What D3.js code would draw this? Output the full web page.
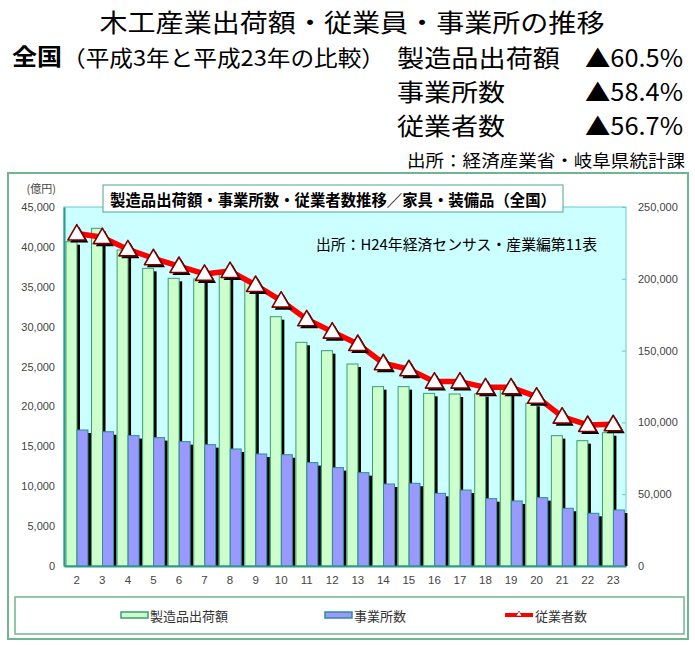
<!DOCTYPE html>
<html><head><meta charset="utf-8">
<script src="https://cdn.jsdelivr.net/npm/d3@7"></script>
<style>
html,body{margin:0;padding:0;background:#fff;}
svg{display:block;font-family:"Noto Sans CJK JP","Noto Sans",sans-serif;}
</style></head>
<body><svg id="c" width="695" height="645"></svg>
<script>
const categories = ["2","3","4","5","6","7","8","9","10","11","12","13","14","15","16","17","18","19","20","21","22","23"];
const shipments = [40650,42330,39610,37310,36060,35980,36560,35760,31250,28040,26990,25320,22480,22480,21640,21560,21600,22100,20390,16340,15710,16710];
const establishments = [94700,93500,90800,89400,86600,84500,81500,78000,77500,72000,68500,65000,57100,57600,50600,52900,46900,45300,47600,40200,36700,39000];
const employees = [231500,229000,220500,214300,208900,203400,205400,195700,184800,171800,163200,154600,141200,137000,128400,128400,124400,124400,117900,104000,98200,98700];
const leftTicks = [0,5000,10000,15000,20000,25000,30000,35000,40000,45000];
const rightTicks = [0,50000,100000,150000,200000,250000];
const seriesNames = ["製造品出荷額","事業所数","従業者数"];
const changes = ["▲60.5%","▲58.4%","▲56.7%"];

const svg = d3.select("#c");
const P = {l:64, r:626, t:207, b:566};

// header texts
svg.append("text").attr("x",352).attr("y",21).attr("text-anchor","middle").attr("dominant-baseline","central")
  .attr("font-size",25).attr("textLength",505).attr("lengthAdjust","spacingAndGlyphs").attr("fill","#000")
  .text("木工産業出荷額・従業員・事業所の推移");
svg.append("text").attr("x",12).attr("y",55).attr("dominant-baseline","central").attr("font-size",23)
  .attr("font-weight","bold").attr("textLength",50).attr("lengthAdjust","spacingAndGlyphs").text("全国");
svg.append("text").attr("x",62).attr("y",56).attr("dominant-baseline","central").attr("font-size",22)
  .attr("textLength",323).attr("lengthAdjust","spacingAndGlyphs").text("（平成3年と平成23年の比較）");
const rowY = [56, 90, 124];
const nameW = [163,108,108];
seriesNames.forEach((n,i)=>{
  svg.append("text").attr("x",397).attr("y",rowY[i]).attr("dominant-baseline","central").attr("font-size",24)
    .attr("textLength",nameW[i]).attr("lengthAdjust","spacingAndGlyphs").text(n);
  svg.append("text").attr("x",585).attr("y",rowY[i]).attr("dominant-baseline","central").attr("font-size",24)
    .attr("textLength",98).attr("lengthAdjust","spacingAndGlyphs").text(changes[i]);
});
svg.append("text").attr("x",407).attr("y",159).attr("dominant-baseline","central").attr("font-size",17)
  .attr("textLength",278).attr("lengthAdjust","spacingAndGlyphs").text("出所：経済産業省・岐阜県統計課");

// outer chart border
svg.append("rect").attr("x",8).attr("y",173).attr("width",680).attr("height",466)
  .attr("fill","#fff").attr("stroke","#6fb58f").attr("stroke-width",2);

// scales
const x = d3.scaleBand().domain(categories).range([P.l,P.r]).padding(0);
const bw = x.bandwidth();
const sub = d3.scaleBand().domain(["g","b"]).range([2, bw-1.6]).padding(0);
const yL = d3.scaleLinear().domain([0,45000]).range([P.b,P.t]);
const yR = d3.scaleLinear().domain([0,250000]).range([P.b,P.t]);

// plot background
svg.append("rect").attr("x",P.l).attr("y",P.t).attr("width",P.r-P.l).attr("height",P.b-P.t)
  .attr("fill","#ccffff").attr("stroke","#66cccc").attr("stroke-width",1);

const sh = 3;
const gBars = svg.append("g");
categories.forEach((c,i)=>{
  const gx = x(c)+sub("g"), bx = x(c)+sub("b"), w = sub.bandwidth();
  gBars.append("rect").attr("x",gx+sh).attr("y",yL(shipments[i])+sh).attr("width",w).attr("height",P.b-yL(shipments[i])-sh).attr("fill","#000");
  gBars.append("rect").attr("x",gx).attr("y",yL(shipments[i])).attr("width",w).attr("height",P.b-yL(shipments[i]))
    .attr("fill","#ccffcc").attr("stroke","#3a9d73").attr("stroke-width",1);
  gBars.append("rect").attr("x",bx+sh).attr("y",yR(establishments[i])+sh).attr("width",w).attr("height",P.b-yR(establishments[i])-sh).attr("fill","#000");
  gBars.append("rect").attr("x",bx).attr("y",yR(establishments[i])).attr("width",w).attr("height",P.b-yR(establishments[i]))
    .attr("fill","#9999ff").attr("stroke","#2e8f95").attr("stroke-width",1);
});

// line
const line = d3.line().x((d,i)=>x(categories[i])+bw/2).y(d=>yR(d));
svg.append("path").datum(employees).attr("d",line).attr("fill","none").attr("stroke","#ff0000").attr("stroke-width",5.5).attr("stroke-linejoin","round");
const tri = (cx,cy)=>`M${cx},${cy-9}L${cx+9},${cy+6.5}L${cx-9},${cy+6.5}Z`;
const mk = svg.append("g");
employees.forEach((v,i)=>{
  const cx = x(categories[i])+bw/2, cy = yR(v);
  mk.append("path").attr("d",tri(cx+2.5,cy+2.5)).attr("fill","#000");
  mk.append("path").attr("d",tri(cx,cy)).attr("fill","#fff").attr("stroke","#7a0000").attr("stroke-width",1.6).attr("stroke-linejoin","round");
});

// axes
const axL = svg.append("g").attr("transform",`translate(${P.l},0)`)
  .call(d3.axisLeft(yL).tickValues(leftTicks).tickFormat(d3.format(",")).tickSize(0).tickPadding(9));
axL.select(".domain").attr("stroke","#2e9a8a").attr("stroke-width",2);
axL.selectAll("text").attr("font-family","Liberation Sans, Arial, sans-serif").attr("font-size",11).attr("fill","#444");
const axR = svg.append("g").attr("transform",`translate(${P.r},0)`)
  .call(d3.axisRight(yR).tickValues(rightTicks).tickFormat(d3.format(",")).tickSize(-4).tickPadding(12));
axR.select(".domain").remove();
axR.selectAll("line").attr("stroke","#66cccc");
axR.selectAll("text").attr("font-family","Liberation Sans, Arial, sans-serif").attr("font-size",11).attr("fill","#444");
const axB = svg.append("g").attr("transform",`translate(0,${P.b})`)
  .call(d3.axisBottom(x).tickSize(0).tickPadding(10));
axB.select(".domain").attr("stroke","#2e9a8a").attr("stroke-width",2);
axB.selectAll("text").attr("font-family","Liberation Sans, Arial, sans-serif").attr("font-size",11.5).attr("fill","#444");

svg.append("text").attr("x",56).attr("y",188).attr("text-anchor","end").attr("dominant-baseline","central")
  .attr("font-size",11).attr("fill","#444").text("(億円)");

// chart title box
svg.append("rect").attr("x",103).attr("y",185).attr("width",460).attr("height",27).attr("fill","#fff").attr("stroke","#4aa88a").attr("stroke-width",1);
svg.append("text").attr("x",333).attr("y",198.5).attr("text-anchor","middle").attr("dominant-baseline","central")
  .attr("font-size",16).attr("font-weight","bold").attr("textLength",446).attr("lengthAdjust","spacingAndGlyphs")
  .text("製造品出荷額・事業所数・従業者数推移／家具・装備品（全国）");
svg.append("text").attr("x",316).attr("y",243).attr("dominant-baseline","central").attr("font-size",15)
  .attr("textLength",281).attr("lengthAdjust","spacingAndGlyphs").text("出所：H24年経済センサス・産業編第11表");

// legend
svg.append("rect").attr("x",15).attr("y",597).attr("width",669).attr("height",37).attr("fill","#fff").attr("stroke","#6fb58f").attr("stroke-width",1.5);
const lg = svg.append("g");
lg.append("rect").attr("x",121).attr("y",612).attr("width",27).attr("height",6).attr("fill","#ccffcc").attr("stroke","#3a9d73").attr("stroke-width",1.5);
lg.append("rect").attr("x",325).attr("y",612).attr("width",27).attr("height",6).attr("fill","#9999ff").attr("stroke","#2e8f95").attr("stroke-width",1.5);
lg.append("line").attr("x1",505).attr("x2",533).attr("y1",615).attr("y2",615).attr("stroke","#ff0000").attr("stroke-width",4);
lg.append("path").attr("d","M519,611L522,616L516,616Z").attr("fill","#fff").attr("stroke","#7a0000").attr("stroke-width",0.6);
const lx = [150,354,535];
seriesNames.forEach((n,i)=>{
  lg.append("text").attr("x",lx[i]).attr("y",615).attr("dominant-baseline","central").attr("font-size",13).attr("fill","#333").text(n);
});
</script></body></html>
